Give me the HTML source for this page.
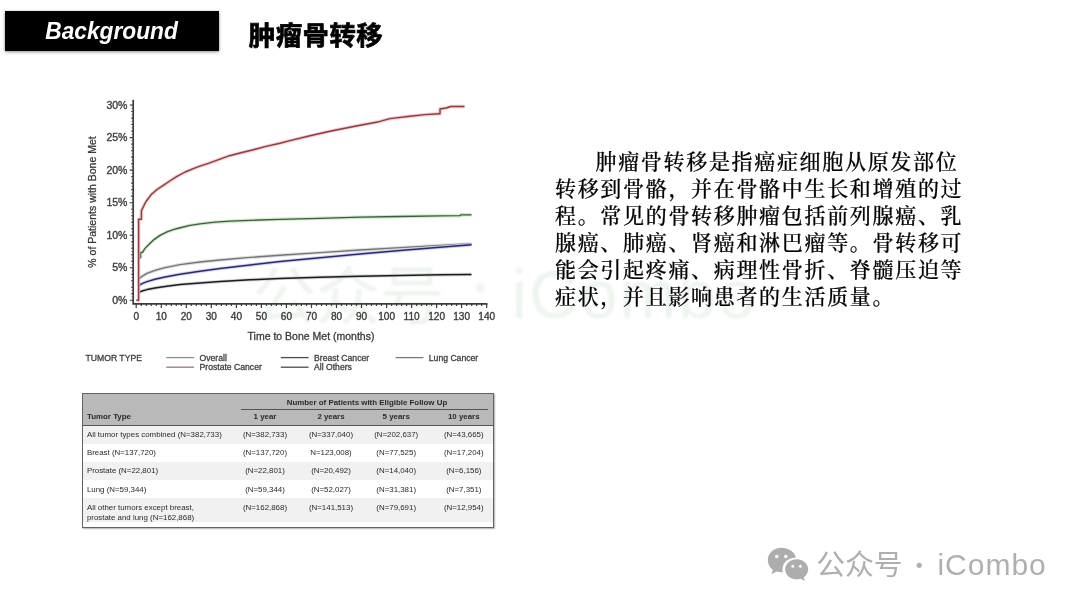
<!DOCTYPE html>
<html lang="zh-CN">
<head>
<meta charset="utf-8">
<title>肿瘤骨转移</title>
<style>
html,body{margin:0;padding:0;background:#fff;}
body{width:1080px;height:608px;position:relative;overflow:hidden;font-family:"Liberation Sans","Noto Sans CJK SC",sans-serif;}
.abs{position:absolute;}
#chart,#tbl,#frame{filter:blur(.45px);}
#para,#title,#tagt,#wx,#wxi{filter:blur(.35px);}
#tag{left:4.5px;top:10.6px;width:214.6px;height:40px;background:#000;box-shadow:0 1px 3px rgba(0,0,0,.45);}
#tagt{left:5px;top:11.3px;width:213px;height:39.5px;line-height:39.5px;text-align:center;color:#fff;font-weight:bold;font-style:italic;font-size:24.2px;white-space:nowrap;}
#tagt span{display:inline-block;transform:scaleX(.94);transform-origin:50% 50%;}
#title{left:248.8px;top:14.6px;height:38px;line-height:38px;font-family:"Noto Sans CJK SC","Liberation Sans",sans-serif;font-weight:bold;font-size:26.4px;letter-spacing:.5px;color:#000;white-space:nowrap;-webkit-text-stroke:.7px #000;}
#para{left:555.0px;top:146.9px;width:420px;font-family:"Noto Serif CJK SC","Liberation Serif",serif;font-size:21px;letter-spacing:1.68px;line-height:27.08px;color:#000;white-space:nowrap;font-weight:500;-webkit-text-stroke:.22px #000;text-indent:40.5px;margin:0;}
#wm{filter:blur(.8px);left:252px;top:257px;height:80px;line-height:80px;font-size:64px;color:rgba(105,155,105,.115);white-space:nowrap;}
#wm .la{font-size:67.6px;letter-spacing:2.2px;position:absolute;left:259.8px;top:-2px;}
#wm .dt{font-family:"Noto Sans CJK SC",sans-serif;font-weight:700;font-size:34px;position:relative;top:-18.5px;margin-left:19.5px;}
#wx{left:816.2px;top:547px;height:36px;line-height:36px;font-size:28.8px;color:#afafaf;white-space:nowrap;font-weight:400;}
#wx .la{position:absolute;left:121.2px;top:0;font-size:30px;letter-spacing:1px;font-weight:400;}
#wx .dt{position:absolute;left:93.6px;top:0.2px;width:18px;text-align:center;font-family:"Noto Sans CJK SC",sans-serif;font-weight:900;font-size:19px;}
svg text{font-family:"Liberation Sans",sans-serif;fill:#333;}
.tk{font-size:10.1px;stroke:#444;stroke-width:.35px;}
.tky{font-size:10.5px;stroke:#444;stroke-width:.35px;}
.ax{font-size:10.5px;stroke:#444;stroke-width:.3px;}
.lg{font-size:8.65px;fill:#3a3a3a;stroke:#444;stroke-width:.3px;}
#tbl{left:82.4px;top:393.4px;width:411.6px;height:134.8px;background:#fff;font-size:7.9px;color:#2a2a2a;overflow:hidden;}
#frame{left:82.4px;top:393.4px;width:411.6px;height:134.8px;box-sizing:border-box;border:1.4px solid #626262;box-shadow:.6px .8px 1.2px rgba(0,0,0,.3);}
#thead{position:absolute;left:0;top:0;right:0;height:31.4px;background:#b9b9b9;border-bottom:1.4px solid #555;}
#thead .ht{position:absolute;left:158.4px;width:247.6px;top:3.4px;padding-left:4.8px;box-sizing:border-box;text-align:center;font-weight:bold;line-height:11px;border-bottom:1px solid #555;padding-bottom:1.2px;}
#thead .h0{position:absolute;left:4.6px;top:17.2px;font-weight:bold;line-height:11px;}
#thead .hv{position:absolute;width:60px;top:17.3px;text-align:center;font-weight:bold;line-height:11px;}
.row{position:absolute;left:0;right:0;}
.row .c0{position:absolute;left:4.5px;line-height:9.5px;white-space:nowrap;}
.row .cv{position:absolute;width:60px;text-align:center;line-height:9.5px;}
</style>
</head>
<body>
<div class="abs" id="wm">公众号<span class="dt">·</span><span class="la">iCombo</span></div>
<div class="abs" id="tag"></div>
<div class="abs" id="tagt"><span>Background</span></div>
<div class="abs" id="title">肿瘤骨转移</div>
<svg class="abs" id="chart" style="left:0;top:0" width="540" height="390" viewBox="0 0 540 390">
<path d="M133.2,99.8 V303.8 H487.4" fill="none" stroke="#3c3c3c" stroke-width="1.7"/>
<path d="M129.8,300.3H133.4M131.2,293.8H133.4M131.2,287.3H133.4M131.2,280.8H133.4M131.2,274.3H133.4M129.8,267.8H133.4M131.2,261.2H133.4M131.2,254.7H133.4M131.2,248.2H133.4M131.2,241.7H133.4M129.8,235.2H133.4M131.2,228.7H133.4M131.2,222.2H133.4M131.2,215.7H133.4M131.2,209.2H133.4M129.8,202.7H133.4M131.2,196.1H133.4M131.2,189.6H133.4M131.2,183.1H133.4M131.2,176.6H133.4M129.8,170.1H133.4M131.2,163.6H133.4M131.2,157.1H133.4M131.2,150.6H133.4M131.2,144.1H133.4M129.8,137.6H133.4M131.2,131.0H133.4M131.2,124.5H133.4M131.2,118.0H133.4M131.2,111.5H133.4M129.8,105.0H133.4" stroke="#3a3a3a" stroke-width="1.1" fill="none"/>
<path d="M131.6,300.3H133.4M131.6,297.0H133.4M131.6,293.8H133.4M131.6,290.5H133.4M131.6,287.3H133.4M131.6,284.0H133.4M131.6,280.8H133.4M131.6,277.5H133.4M131.6,274.3H133.4M131.6,271.0H133.4M131.6,267.8H133.4M131.6,264.5H133.4M131.6,261.2H133.4M131.6,258.0H133.4M131.6,254.7H133.4M131.6,251.5H133.4M131.6,248.2H133.4M131.6,245.0H133.4M131.6,241.7H133.4M131.6,238.5H133.4M131.6,235.2H133.4M131.6,231.9H133.4M131.6,228.7H133.4M131.6,225.4H133.4M131.6,222.2H133.4M131.6,218.9H133.4M131.6,215.7H133.4M131.6,212.4H133.4M131.6,209.2H133.4M131.6,205.9H133.4M131.6,202.7H133.4M131.6,199.4H133.4M131.6,196.1H133.4M131.6,192.9H133.4M131.6,189.6H133.4M131.6,186.4H133.4M131.6,183.1H133.4M131.6,179.9H133.4M131.6,176.6H133.4M131.6,173.4H133.4M131.6,170.1H133.4M131.6,166.8H133.4M131.6,163.6H133.4M131.6,160.3H133.4M131.6,157.1H133.4M131.6,153.8H133.4M131.6,150.6H133.4M131.6,147.3H133.4M131.6,144.1H133.4M131.6,140.8H133.4M131.6,137.6H133.4M131.6,134.3H133.4M131.6,131.0H133.4M131.6,127.8H133.4M131.6,124.5H133.4M131.6,121.3H133.4M131.6,118.0H133.4M131.6,114.8H133.4M131.6,111.5H133.4M131.6,108.3H133.4M131.6,105.0H133.4" stroke="#555" stroke-width="0.9" fill="none"/>
<path d="M136.2,303.8V308.0M141.3,303.8V306.0M146.3,303.8V306.0M151.3,303.8V306.0M156.3,303.8V306.0M161.3,303.8V308.0M166.3,303.8V306.0M171.3,303.8V306.0M176.3,303.8V306.0M181.3,303.8V306.0M186.3,303.8V308.0M191.3,303.8V306.0M196.3,303.8V306.0M201.3,303.8V306.0M206.3,303.8V306.0M211.3,303.8V308.0M216.3,303.8V306.0M221.4,303.8V306.0M226.4,303.8V306.0M231.4,303.8V306.0M236.4,303.8V308.0M241.4,303.8V306.0M246.4,303.8V306.0M251.4,303.8V306.0M256.4,303.8V306.0M261.4,303.8V308.0M266.4,303.8V306.0M271.4,303.8V306.0M276.4,303.8V306.0M281.4,303.8V306.0M286.4,303.8V308.0M291.4,303.8V306.0M296.4,303.8V306.0M301.4,303.8V306.0M306.5,303.8V306.0M311.5,303.8V308.0M316.5,303.8V306.0M321.5,303.8V306.0M326.5,303.8V306.0M331.5,303.8V306.0M336.5,303.8V308.0M341.5,303.8V306.0M346.5,303.8V306.0M351.5,303.8V306.0M356.5,303.8V306.0M361.5,303.8V308.0M366.5,303.8V306.0M371.5,303.8V306.0M376.5,303.8V306.0M381.5,303.8V306.0M386.6,303.8V308.0M391.6,303.8V306.0M396.6,303.8V306.0M401.6,303.8V306.0M406.6,303.8V306.0M411.6,303.8V308.0M416.6,303.8V306.0M421.6,303.8V306.0M426.6,303.8V306.0M431.6,303.8V306.0M436.6,303.8V308.0M441.6,303.8V306.0M446.6,303.8V306.0M451.6,303.8V306.0M456.6,303.8V306.0M461.6,303.8V308.0M466.6,303.8V306.0M471.7,303.8V306.0M476.7,303.8V306.0M481.7,303.8V306.0M486.7,303.8V308.0" stroke="#3a3a3a" stroke-width="1.2" fill="none"/>
<path d="M138.8,279.0 L142.0,276.4 L147.0,273.4 L155.0,270.4 L165.0,267.6 L180.0,264.6 L200.0,262.0 L220.0,260.0 L250.0,257.4 L280.0,255.3 L320.0,252.6 L360.0,250.0 L400.0,247.6 L440.0,245.4 L471.5,243.7" fill="none" stroke="#d8d8d8" stroke-opacity=".85" stroke-width="3.4" stroke-linejoin="round"/>
<path d="M138.8,279.0 L142.0,276.4 L147.0,273.4 L155.0,270.4 L165.0,267.6 L180.0,264.6 L200.0,262.0 L220.0,260.0 L250.0,257.4 L280.0,255.3 L320.0,252.6 L360.0,250.0 L400.0,247.6 L440.0,245.4 L471.5,243.7" fill="none" stroke="#767676" stroke-width="1.4" stroke-linejoin="round"/>
<path d="M138.8,292.4 L142.0,291.0 L147.0,289.6 L155.0,288.0 L165.0,286.4 L180.0,284.6 L200.0,283.0 L220.0,281.6 L250.0,279.8 L280.0,278.4 L320.0,277.2 L360.0,276.2 L400.0,275.4 L440.0,274.8 L471.5,274.4" fill="none" stroke="#cfcfcf" stroke-opacity=".85" stroke-width="3.4" stroke-linejoin="round"/>
<path d="M138.8,292.4 L142.0,291.0 L147.0,289.6 L155.0,288.0 L165.0,286.4 L180.0,284.6 L200.0,283.0 L220.0,281.6 L250.0,279.8 L280.0,278.4 L320.0,277.2 L360.0,276.2 L400.0,275.4 L440.0,274.8 L471.5,274.4" fill="none" stroke="#1c1c1c" stroke-width="1.5" stroke-linejoin="round"/>
<path d="M138.8,285.6 L142.0,283.6 L147.0,281.6 L155.0,279.2 L165.0,277.0 L180.0,274.2 L200.0,271.2 L220.0,268.6 L250.0,265.0 L280.0,261.6 L320.0,257.7 L360.0,254.0 L400.0,250.5 L440.0,247.2 L471.5,244.7" fill="none" stroke="#c9c9f2" stroke-opacity=".85" stroke-width="3.4" stroke-linejoin="round"/>
<path d="M138.8,285.6 L142.0,283.6 L147.0,281.6 L155.0,279.2 L165.0,277.0 L180.0,274.2 L200.0,271.2 L220.0,268.6 L250.0,265.0 L280.0,261.6 L320.0,257.7 L360.0,254.0 L400.0,250.5 L440.0,247.2 L471.5,244.7" fill="none" stroke="#2a2a6c" stroke-width="1.5" stroke-linejoin="round"/>
<path d="M138.8,257.6 L140.6,257.6 L140.6,252.4 L142.5,252.4 L145.0,248.4 L149.6,243.7 L154.0,239.6 L160.0,235.4 L167.0,231.8 L174.0,229.3 L179.3,228.0 L190.0,225.4 L200.0,223.8 L215.0,222.2 L230.0,221.2 L250.0,220.3 L280.0,219.3 L320.0,218.3 L360.0,217.2 L400.0,216.5 L440.0,215.9 L460.0,215.7 L461.0,214.8 L471.5,214.8" fill="none" stroke="#c6e6c0" stroke-opacity=".85" stroke-width="3.4" stroke-linejoin="round"/>
<path d="M138.8,257.6 L140.6,257.6 L140.6,252.4 L142.5,252.4 L145.0,248.4 L149.6,243.7 L154.0,239.6 L160.0,235.4 L167.0,231.8 L174.0,229.3 L179.3,228.0 L190.0,225.4 L200.0,223.8 L215.0,222.2 L230.0,221.2 L250.0,220.3 L280.0,219.3 L320.0,218.3 L360.0,217.2 L400.0,216.5 L440.0,215.9 L460.0,215.7 L461.0,214.8 L471.5,214.8" fill="none" stroke="#3a5f3a" stroke-width="1.3" stroke-linejoin="round"/>
<path d="M136.4,300.3 L138.6,300.3 L138.6,219.3 L141.4,219.3 L141.4,210.6 L143.5,206.5 L146.0,201.5 L151.0,194.8 L157.0,189.5 L164.4,184.6 L169.0,181.5 L177.0,176.3 L185.2,172.0 L197.0,167.2 L209.0,163.2 L220.0,159.2 L229.6,155.7 L241.0,152.8 L253.3,149.8 L266.0,146.4 L280.0,143.2 L290.0,140.6 L310.0,135.8 L330.0,131.2 L355.0,126.2 L379.0,121.7 L390.0,118.6 L410.0,116.3 L425.0,114.6 L439.0,113.7 L440.0,113.7 L440.0,109.0 L446.0,108.0 L451.0,106.5 L464.5,106.5" fill="none" stroke="#f6bcbc" stroke-opacity=".85" stroke-width="3.4" stroke-linejoin="round"/>
<path d="M136.4,300.3 L138.6,300.3 L138.6,219.3 L141.4,219.3 L141.4,210.6 L143.5,206.5 L146.0,201.5 L151.0,194.8 L157.0,189.5 L164.4,184.6 L169.0,181.5 L177.0,176.3 L185.2,172.0 L197.0,167.2 L209.0,163.2 L220.0,159.2 L229.6,155.7 L241.0,152.8 L253.3,149.8 L266.0,146.4 L280.0,143.2 L290.0,140.6 L310.0,135.8 L330.0,131.2 L355.0,126.2 L379.0,121.7 L390.0,118.6 L410.0,116.3 L425.0,114.6 L439.0,113.7 L440.0,113.7 L440.0,109.0 L446.0,108.0 L451.0,106.5 L464.5,106.5" fill="none" stroke="#8c3e44" stroke-width="1.4" stroke-linejoin="round"/>
<text x="127.4" y="303.8" text-anchor="end" class="tky">0%</text>
<text x="127.4" y="271.2" text-anchor="end" class="tky">5%</text>
<text x="127.4" y="238.7" text-anchor="end" class="tky">10%</text>
<text x="127.4" y="206.2" text-anchor="end" class="tky">15%</text>
<text x="127.4" y="173.6" text-anchor="end" class="tky">20%</text>
<text x="127.4" y="141.1" text-anchor="end" class="tky">25%</text>
<text x="127.4" y="108.5" text-anchor="end" class="tky">30%</text>
<text x="136.2" y="319.6" text-anchor="middle" class="tk">0</text>
<text x="161.3" y="319.6" text-anchor="middle" class="tk">10</text>
<text x="186.3" y="319.6" text-anchor="middle" class="tk">20</text>
<text x="211.3" y="319.6" text-anchor="middle" class="tk">30</text>
<text x="236.4" y="319.6" text-anchor="middle" class="tk">40</text>
<text x="261.4" y="319.6" text-anchor="middle" class="tk">50</text>
<text x="286.4" y="319.6" text-anchor="middle" class="tk">60</text>
<text x="311.5" y="319.6" text-anchor="middle" class="tk">70</text>
<text x="336.5" y="319.6" text-anchor="middle" class="tk">80</text>
<text x="361.5" y="319.6" text-anchor="middle" class="tk">90</text>
<text x="386.6" y="319.6" text-anchor="middle" class="tk">100</text>
<text x="411.6" y="319.6" text-anchor="middle" class="tk">110</text>
<text x="436.6" y="319.6" text-anchor="middle" class="tk">120</text>
<text x="461.6" y="319.6" text-anchor="middle" class="tk">130</text>
<text x="486.7" y="319.6" text-anchor="middle" class="tk">140</text>
<text x="311" y="340" text-anchor="middle" class="ax">Time to Bone Met (months)</text>
<text transform="translate(96,202) rotate(-90)" text-anchor="middle" class="ax">% of Patients with Bone Met</text>
<text x="85.5" y="361" class="lg">TUMOR TYPE</text>
<path d="M166.3,357.6h27.8" stroke="#8f8f8f" stroke-width="1.3"/>
<text x="199.5" y="360.8" class="lg">Overall</text>
<path d="M166.3,367.2h27.8" stroke="#9a7878" stroke-width="1.3"/>
<text x="199.5" y="370.4" class="lg">Prostate Cancer</text>
<path d="M280.8,357.6h27.8" stroke="#4a4a5e" stroke-width="1.3"/>
<text x="314.0" y="360.8" class="lg">Breast Cancer</text>
<path d="M280.8,367.2h27.8" stroke="#4a4a4a" stroke-width="1.3"/>
<text x="314.0" y="370.4" class="lg">All Others</text>
<path d="M395.6,357.6h27.8" stroke="#6f806f" stroke-width="1.3"/>
<text x="428.8" y="360.8" class="lg">Lung Cancer</text>
</svg>
<div class="abs" id="tbl">
<div id="thead"><div class="ht">Number of Patients with Eligible Follow Up</div><div class="h0">Tumor Type</div><div class="hv" style="left:152.6px">1 year</div><div class="hv" style="left:218.6px">2 years</div><div class="hv" style="left:283.8px">5 years</div><div class="hv" style="left:351.4px">10 years</div></div>
<div class="row" style="top:32.8px;height:17.6px;background:#f1f1f1">
<div class="c0" style="top:3.8px">All tumor types combined (N=382,733)</div>
<div class="cv" style="left:152.6px;top:3.8px">(N=382,733)</div>
<div class="cv" style="left:218.6px;top:3.8px">(N=337,040)</div>
<div class="cv" style="left:283.8px;top:3.8px">(N=202,637)</div>
<div class="cv" style="left:351.4px;top:3.8px">(N=43,665)</div>
</div>
<div class="row" style="top:50.4px;height:18.5px;background:#ffffff">
<div class="c0" style="top:4.5px">Breast (N=137,720)</div>
<div class="cv" style="left:152.6px;top:4.5px">(N=137,720)</div>
<div class="cv" style="left:218.6px;top:4.5px">N=123,008)</div>
<div class="cv" style="left:283.8px;top:4.5px">(N=77,525)</div>
<div class="cv" style="left:351.4px;top:4.5px">(N=17,204)</div>
</div>
<div class="row" style="top:68.9px;height:17.5px;background:#f1f1f1">
<div class="c0" style="top:4.0px">Prostate (N=22,801)</div>
<div class="cv" style="left:152.6px;top:4.0px">(N=22,801)</div>
<div class="cv" style="left:218.6px;top:4.0px">(N=20,492)</div>
<div class="cv" style="left:283.8px;top:4.0px">(N=14,040)</div>
<div class="cv" style="left:351.4px;top:4.0px">(N=6,156)</div>
</div>
<div class="row" style="top:86.4px;height:18.2px;background:#ffffff">
<div class="c0" style="top:5.1px">Lung (N=59,344)</div>
<div class="cv" style="left:152.6px;top:5.1px">(N=59,344)</div>
<div class="cv" style="left:218.6px;top:5.1px">(N=52,027)</div>
<div class="cv" style="left:283.8px;top:5.1px">(N=31,381)</div>
<div class="cv" style="left:351.4px;top:5.1px">(N=7,351)</div>
</div>
<div class="row" style="top:104.6px;height:24.4px;background:#f1f1f1">
<div class="c0" style="top:5.3px">All other tumors except breast,<br>prostate and lung (N=162,868)</div>
<div class="cv" style="left:152.6px;top:5.3px">(N=162,868)</div>
<div class="cv" style="left:218.6px;top:5.3px">(N=141,513)</div>
<div class="cv" style="left:283.8px;top:5.3px">(N=79,691)</div>
<div class="cv" style="left:351.4px;top:5.3px">(N=12,954)</div>
</div>
</div>
<div class="abs" id="frame"></div>
<div class="abs" id="para">肿瘤骨转移是指癌症细胞从原发部位<br>转移到骨骼，并在骨骼中生长和增殖的过<br>程。常见的骨转移肿瘤包括前列腺癌、乳<br>腺癌、肺癌、肾癌和淋巴瘤等。骨转移可<br>能会引起疼痛、病理性骨折、脊髓压迫等<br>症状，并且影响患者的生活质量。</div>
<svg class="abs" id="wxi" style="left:764.2px;top:543.7px" width="48" height="43" viewBox="0 0 48 40" preserveAspectRatio="none">
<g fill="#adadad">
<path d="M17.5 3.6C9.9 3.6 3.8 8.7 3.8 15c0 3.6 2 6.8 5.100 8.900L7.500 28.200l5.100-2.600c1.500.4 3.100.7 4.900.7.500 0 .9 0 1.400-.1-.3-.9-.4-1.900-.4-2.900 0-5.800 5.600-10.500 12.400-10.500.3 0 .7 0 1 0C30.700 7.500 24.700 3.600 17.500 3.600z"/>
<path d="M44.200 23.500c0-5.200-5.200-9.400-11.500-9.400s-11.500 4.200-11.500 9.400 5.200 9.400 11.500 9.400c1.400 0 2.800-.2 4.100-.6l4.100 2.200-1.100-3.600c2.700-1.700 4.400-4.400 4.400-7.400z"/>
</g>
<g fill="#fff">
<circle cx="12.800" cy="11.600" r="1.700"/><circle cx="21.800" cy="11.600" r="1.700"/>
<circle cx="28.800" cy="20.800" r="1.400"/><circle cx="36.400" cy="20.800" r="1.400"/>
</g>
</svg>
<div class="abs" id="wx">公众号<span class="dt">·</span><span class="la">iCombo</span></div>
</body>
</html>
